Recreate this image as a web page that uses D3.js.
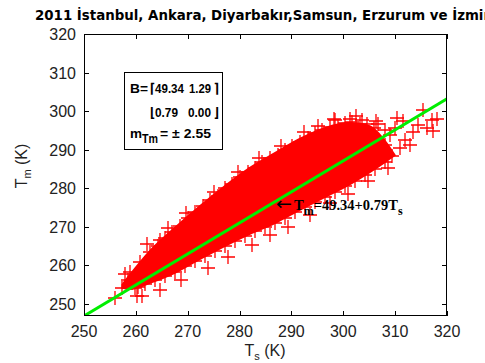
<!DOCTYPE html>
<html><head><meta charset="utf-8">
<script src="https://cdn.jsdelivr.net/npm/d3@7"></script>
<style>body{margin:0;background:#fff}svg{display:block}</style>
</head><body>
<svg id="c" width="485" height="363"></svg>
<script>
// ---- data ----
const xTicks = [250,260,270,280,290,300,310,320];
const yTicks = [250,260,270,280,290,300,310,320];
const titleText = "2011 İstanbul, Ankara, Diyarbakır,Samsun, Erzurum ve İzmir";
// dense core of the scatter cloud (Ts, upper Tm, lower Tm)
const bandTs    = [257.4,258.9,262.7,267.5,272.4,277.2,282.0,286.8,291.6,296.4,301.3,305.1,308.0,309.9];
const bandUpper = [255.0,257.6,263.7,269.7,275.4,280.6,285.3,289.1,292.8,295.6,296.9,296.1,292.3,288.6];
const bandLower = [254.2,253.9,255.5,258.1,261.7,265.1,268.2,271.0,274.4,277.7,281.1,284.2,286.8,288.6];
// individual markers along edges and outliers [Ts, Tm]
const pointsTs = [
 258.9,260.8,262.7,264.3,265.6,267.0,268.5,270.0,271.4,272.9,274.3,275.8,277.2,278.5,280.1,281.6,283.0,284.3,285.8,287.4,288.7,290.1,291.6,293.2,294.5,295.9,297.4,298.9,300.3,301.6,303.2,304.5,305.9,
 264.6,298.4,301.3,303.6,306.7,308.0,
 262.1,266.2,269.7,275.1,279.7,283.7,288.0,292.4,295.1,298.2,302.4,306.3,
 259.8,261.8,263.7,265.6,267.5,269.5,271.4,273.3,275.2,277.2,279.1,281.0,283.0,284.9,286.8,288.7,290.7,292.6,294.5,296.4,298.4,300.3,302.2,304.1,306.1,308.0,309.4,
 261.2,264.6,268.7,273.9,277.7,282.4,285.8,289.3,293.6,297.4,300.9,304.7,308.6,
 310.3,311.5,313.4,315.3,316.1,317.1,318.0,317.3,311.9,310.9,312.8,314.4,309.0,308.0,307.0,309.9,306.1,
 256.0,257.3,258.5,260.4,261.4,259.2,261.8,263.3,262.3,260.2,257.9];
const pointsTm = [
 258.3,260.9,263.5,265.0,267.1,268.7,270.2,272.3,273.8,275.4,277.0,278.0,280.1,281.1,282.9,284.2,285.3,286.8,287.8,288.6,289.9,291.0,292.0,293.0,294.3,295.1,295.9,296.1,296.9,297.2,296.7,296.7,295.6,
 266.6,297.6,297.9,297.8,296.6,295.1,
 265.5,269.7,273.6,279.0,284.2,287.8,291.0,294.6,296.1,298.0,298.8,297.4,
 254.1,255.2,256.2,257.2,258.3,259.8,261.1,262.4,263.7,265.0,266.3,267.6,268.9,270.0,271.0,272.3,273.8,275.1,276.4,277.7,279.0,280.6,281.9,283.4,285.0,286.8,288.4,
 252.1,253.6,256.2,259.3,262.2,265.3,267.9,270.0,273.1,276.2,278.6,281.8,285.3,
 298.2,297.4,294.6,300.3,295.6,297.7,298.0,294.8,292.5,290.4,291.2,296.4,293.8,291.2,289.9,295.6,292.5,
 251.5,254.1,256.2,254.4,256.7,255.4,259.3,262.4,260.9,252.1,257.8];
// fitted line as drawn
const lineTs = [250, 320];
const lineTm = [246.9, 303.2];

const svg = d3.select("#c");
const L=84,R=447,T=34,B=316;
const x = d3.scaleLinear([250,320],[L,R]);
const y = d3.scaleLinear([246.9,320],[B,T]);

svg.append("defs").append("clipPath").attr("id","pc")
  .append("rect").attr("x",L).attr("y",T).attr("width",R-L).attr("height",B-T);
const g = svg.append("g").attr("clip-path","url(#pc)");

// core band
const band = bandTs.map((t,i)=>({t,u:bandUpper[i],l:bandLower[i]}));
g.append("path").datum(band)
  .attr("d", d3.area().x(d=>x(d.t)).y0(d=>y(d.l)).y1(d=>y(d.u)).curve(d3.curveMonotoneX))
  .attr("fill","#ff0000").attr("stroke","#ff0000").attr("stroke-width",2);

// plus markers
const s=7;
g.append("g").selectAll("path").data(pointsTs.map((t,i)=>[t,pointsTm[i]])).join("path")
  .attr("d", d=>{const px=Math.round(x(d[0])),py=Math.round(y(d[1]));return `M${px-s},${py}H${px+s}M${px},${py-s}V${py+s}`;})
  .attr("stroke","#ff0000").attr("stroke-width",1.3).attr("fill","none");

// line
g.append("path").datum(lineTs.map((t,i)=>[t,lineTm[i]]))
  .attr("d", d3.line().x(d=>x(d[0])).y(d=>y(d[1])))
  .attr("stroke","#00ee00").attr("stroke-width",3).attr("fill","none");

// axes box
const ax = svg.append("g").attr("stroke","#000").attr("stroke-width",1).attr("fill","none");
ax.append("rect").attr("x",L+0.5).attr("y",T+0.5).attr("width",R-L-1).attr("height",B-T-1);
const tl=5;
xTicks.forEach(v=>{const px=Math.round(x(v))+0.5;
  ax.append("path").attr("d",`M${px},${B}V${B-tl}M${px},${T}V${T+tl}`);});
yTicks.forEach(v=>{const py=Math.round(y(v))+0.5;
  ax.append("path").attr("d",`M${L},${py}H${L+tl}M${R},${py}H${R-tl}`);});

const font="'Liberation Sans', Arial, sans-serif";
svg.append("g").selectAll("text").data(xTicks).join("text")
  .attr("x",d=>x(d)).attr("y",337).attr("text-anchor","middle")
  .attr("font-family",font).attr("font-size",16).attr("fill","#222").text(d=>d);
svg.append("g").selectAll("text").data(yTicks).join("text")
  .attr("x",76).attr("y",d=>y(d)+6).attr("text-anchor","end")
  .attr("font-family",font).attr("font-size",16).attr("fill","#222").text(d=>d);

// axis labels
const xl = svg.append("text").attr("x",265).attr("y",356).attr("text-anchor","middle")
  .attr("font-family",font).attr("font-size",16).attr("fill","#222");
xl.append("tspan").text("T");
xl.append("tspan").attr("font-size",11).attr("dy",4).text("s");
xl.append("tspan").attr("dy",-4).text(" (K)");
const yl = svg.append("text").attr("transform","translate(27,166) rotate(-90)").attr("text-anchor","middle")
  .attr("font-family",font).attr("font-size",16).attr("fill","#222");
yl.append("tspan").text("T");
yl.append("tspan").attr("font-size",11).attr("dy",4).text("m");
yl.append("tspan").attr("dy",-4).text(" (K)");

// title (runs off the right edge like the reference)
const tfont = "'DejaVu Sans', Verdana, sans-serif";
const probe = svg.append("text").attr("font-family",tfont).attr("font-weight","bold").attr("font-size",12)
  .text(titleText.slice(0,-1));
const pw = probe.node().getComputedTextLength(); probe.remove();
const tfs = 12*449/pw;
svg.append("text").attr("x",35).attr("y",20)
  .attr("font-family",tfont).attr("font-size",tfs).attr("font-weight","bold").attr("fill","#000")
  .text(titleText);

// text box
svg.append("rect").attr("x",124.5).attr("y",72.5).attr("width",98).attr("height",77)
  .attr("fill","#fff").attr("stroke","#000");
function seg(txt,x0,x1,yb,fam,fs){
  return svg.append("text").attr("x",x0).attr("y",yb).attr("font-family",fam||font).attr("font-size",fs||12.5)
    .attr("font-weight","bold").attr("textLength",x1-x0).attr("lengthAdjust","spacingAndGlyphs").text(txt);
}
const dj="'DejaVu Sans', sans-serif";
seg("B=",130,148,93,font,13.5);
seg("⌈",150,155,93,dj,13.5);
seg("49.34",155,184,93);
seg("1.29",189,211,93);
seg("⌉",214,219,93,dj,13.5);
seg("⌊",150,155,117,dj,13.5);
seg("0.79",155,178,117);
seg("0.00",188,211,117);
seg("⌋",214,219,117,dj,13.5);
seg("m",130,142,138,font,13.5);
seg("Tm",142,158,143,font,12);
seg("= ± 2.55",160,211,138,font,13.5);

// annotation
svg.append("text").attr("x",276).attr("y",210).attr("font-family",dj).attr("font-size",18)
  .attr("textLength",16).attr("lengthAdjust","spacingAndGlyphs").text("←");
const an = svg.append("text").attr("x",294).attr("y",210).attr("font-family","'Liberation Serif', 'Times New Roman', serif")
  .attr("font-size",14.5).attr("font-weight","bold").attr("fill","#000");
an.append("tspan").text("T");
an.append("tspan").attr("font-size",12).attr("dy",5).text("m");
an.append("tspan").attr("dy",-5).text("=49.34+0.79T");
an.append("tspan").attr("font-size",12).attr("dy",5).text("s");
</script>
</body></html>
